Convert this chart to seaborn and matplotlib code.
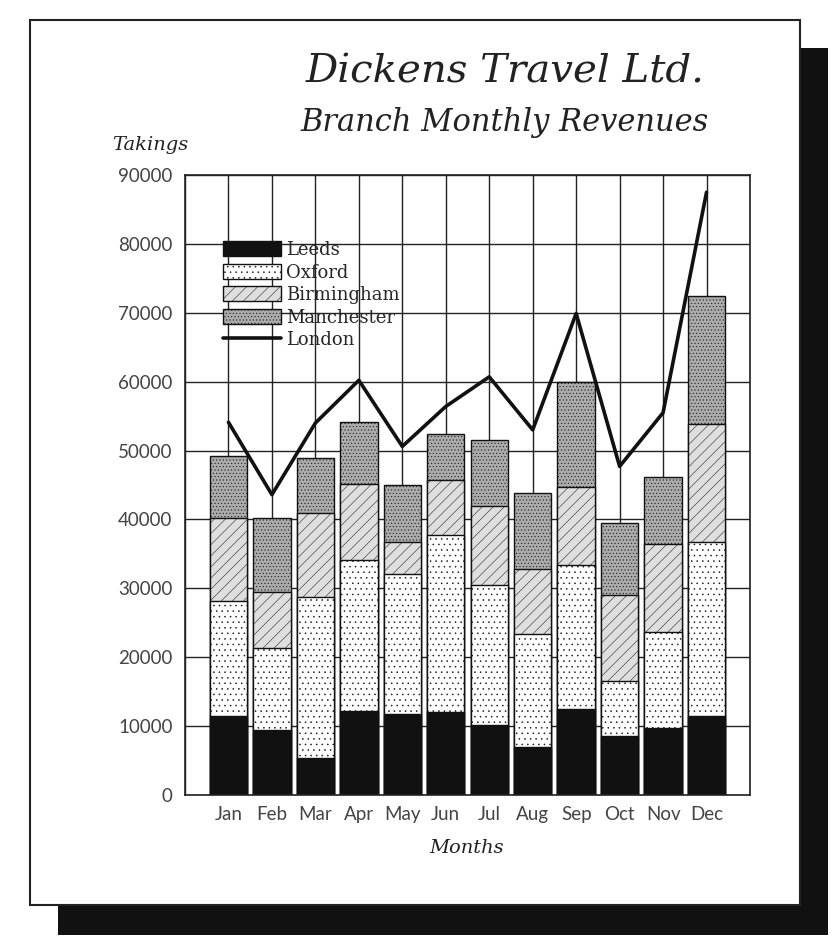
import numpy as np
import pandas as pd
import seaborn as sns
import matplotlib.pyplot as plt
from matplotlib.patches import Patch, Rectangle
from matplotlib.lines import Line2D

# Data (takings per branch per month)
months = ['Jan', 'Feb', 'Mar', 'Apr', 'May', 'Jun',
          'Jul', 'Aug', 'Sep', 'Oct', 'Nov', 'Dec']
leeds = [11400, 9500, 5300, 12200, 11700, 12100, 10200, 7000, 12500, 8600, 9700, 11400]
oxford = [16800, 11900, 23400, 21900, 20400, 25600, 20300, 16400, 20900, 7900, 14000, 25300]
birmingham = [12000, 8100, 12300, 11000, 4600, 8000, 11400, 9400, 11300, 12500, 12800, 17100]
manchester = [9000, 10700, 7900, 9000, 8300, 6700, 9700, 11000, 15300, 10500, 9700, 18700]
london = [54100, 43600, 54000, 60200, 50600, 56400, 60700, 53000, 69900, 47700, 55500, 87500]

y_ticks = [0, 10000, 20000, 30000, 40000, 50000, 60000, 70000, 80000, 90000]

df = pd.DataFrame({'month': months, 'Leeds': leeds, 'Oxford': oxford,
                   'Birmingham': birmingham, 'Manchester': manchester,
                   'London': london})
df['top_leeds'] = df['Leeds']
df['top_oxford'] = df['top_leeds'] + df['Oxford']
df['top_birmingham'] = df['top_oxford'] + df['Birmingham']
df['top_manchester'] = df['top_birmingham'] + df['Manchester']

sns.set_style('white')
plt.rcParams['hatch.linewidth'] = 0.35

W, H = 835, 950
fig = plt.figure(figsize=(W / 100, H / 100), dpi=100)
fig.patch.set_facecolor('white')


def px_rect(x0, y0, x1, y1, **kw):
  # rectangle given in pixel coords measured from the top-left corner
  return Rectangle((x0 / W, 1 - y1 / H), (x1 - x0) / W, (y1 - y0) / H,
                   transform=fig.transFigure, **kw)


# paper sheet with its dark shadow
fig.patches.append(px_rect(58, 48, 828, 935, facecolor='#111111', edgecolor='none', zorder=-3))
fig.patches.append(px_rect(30, 20, 800, 905, facecolor='white', edgecolor='#222222',
                           linewidth=1.5, zorder=-2))

ax = fig.add_axes([185 / W, 1 - 795 / H, 565 / W, 620 / H])
ax.set_facecolor('white')

# look of each branch
styles = {
  'Leeds': ('#111111', None),
  'Oxford': ('white', '...'),
  'Birmingham': ('#dedede', '///'),
  'Manchester': ('#ababab', '.....'),
}

# stacked bars drawn as overlapping cumulative totals, tallest first
x = np.arange(len(months))
for name, col in [('Manchester', 'top_manchester'), ('Birmingham', 'top_birmingham'),
                  ('Oxford', 'top_oxford'), ('Leeds', 'top_leeds')]:
  fc, hatch = styles[name]
  sns.barplot(x=x, y=df[col], color=fc, saturation=1, width=0.86,
              edgecolor='#111111', linewidth=1.0, hatch=hatch, ax=ax,
              native_scale=True, zorder=2)

sns.lineplot(x=x, y=df['London'], color='#111111', linewidth=2.6, ax=ax, zorder=3)

ax.set_xlim(-1, 12)
ax.set_ylim(0, 90000)
ax.set_xticks(np.arange(-1, 13))
ax.set_xticklabels([''] + months + [''])
ax.set_yticks(y_ticks)
ax.set_yticklabels([str(t) for t in y_ticks])
ax.grid(True, color='#222222', linewidth=1.0)
ax.set_axisbelow(True)
ax.set_xlabel('')
ax.set_ylabel('')

for s in ax.spines.values():
  s.set_color('#222222')
  s.set_linewidth(1.2)

ax.tick_params(axis='x', length=0, pad=8, labelsize=13.5, labelcolor='#444444')
ax.tick_params(axis='y', length=6, width=1.0, color='#222222', direction='out',
               pad=3, labelsize=13.5, labelcolor='#444444')
for lab in ax.get_xticklabels() + ax.get_yticklabels():
  lab.set_family('Lato')

# legend
handles = [Patch(facecolor=styles[n][0], edgecolor='#111111', hatch=styles[n][1], label=n)
           for n in ['Leeds', 'Oxford', 'Birmingham', 'Manchester']]
handles.append(Line2D([0], [0], color='#111111', linewidth=2.6, label='London'))
ax.legend(handles=handles, loc='upper left', bbox_to_anchor=(0.055, 0.905),
          frameon=False, handlelength=3.2, handleheight=0.9, labelspacing=0.25,
          handletextpad=0.3, borderaxespad=0,
          prop={'family': 'DejaVu Serif', 'size': 13})

# titles and axis captions
fig.text(505 / W, 1 - 72 / H, 'Dickens Travel Ltd.', ha='center', va='center',
         family='DejaVu Serif', style='italic', fontsize=29, color='#222222')
fig.text(505 / W, 1 - 122 / H, 'Branch Monthly Revenues', ha='center', va='center',
         family='DejaVu Serif', style='italic', fontsize=22, color='#222222')
fig.text(150 / W, 1 - 145 / H, 'Takings', ha='center', va='center',
         family='DejaVu Serif', style='italic', fontsize=14, color='#222222')
fig.text(467 / W, 1 - 848 / H, 'Months', ha='center', va='center',
         family='DejaVu Serif', style='italic', fontsize=14, color='#222222')

fig.savefig('out.png', dpi=100, facecolor='white')
